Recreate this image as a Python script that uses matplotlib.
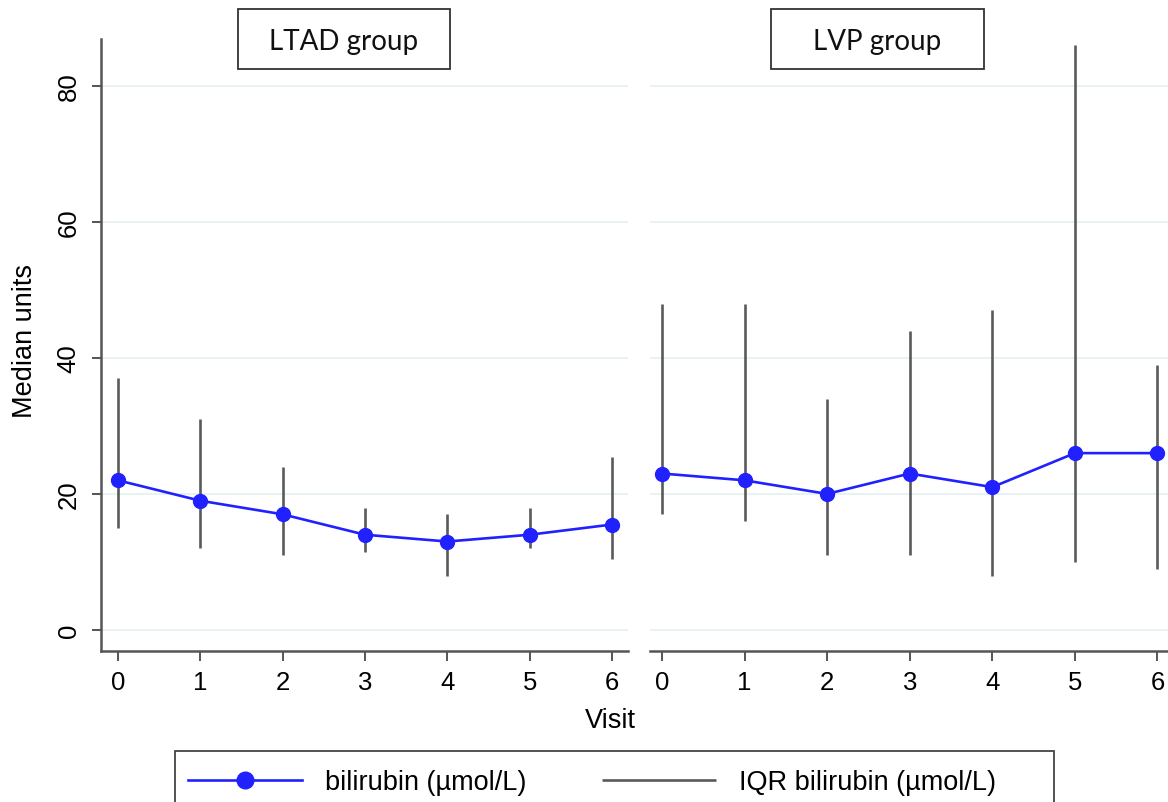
import matplotlib
matplotlib.use("Agg")
import matplotlib.pyplot as plt
from matplotlib.patches import Rectangle
import numpy as np

plt.rcParams['font.family'] = ['Liberation Sans', 'DejaVu Sans']

# visits and bilirubin medians / IQR
visits = [0, 1, 2, 3, 4, 5, 6]
ltad_median = [22, 19, 17, 14, 13, 14, 15.5]
ltad_q1 = [15, 12, 11, 11.5, 8, 12, 10.5]
ltad_q3 = [37, 31, 24, 18, 17, 18, 25.5]
lvp_median = [23, 22, 20, 23, 21, 26, 26]
lvp_q1 = [17, 16, 11, 11, 8, 10, 9]
lvp_q3 = [48, 48, 34, 44, 47, 86, 39]
yticks = [0, 20, 40, 60, 80]
groups = ["LTAD group", "LVP group"]

W, H = 1168, 803
fig = plt.figure(figsize=(W / 100, H / 100), dpi=100)

def fx(px):
    return px / W

def fy(py):
    return 1 - py / H

blue = '#2121ff'
gray = '#5a5a5a'
grid_c = '#e6f0f3'
axis_c = '#555555'

ax1 = fig.add_axes([fx(101), fy(652), fx(628 - 101), (652 - 40) / H])
ax2 = fig.add_axes([fx(650), fy(652), fx(1174 - 650), (652 - 40) / H])

panels = [
    (ax1, ltad_median, ltad_q1, ltad_q3, (-0.206, 6.194)),
    (ax2, lvp_median, lvp_q1, lvp_q3, (-0.145, 6.2)),
]

for ax, med, q1, q3, xl in panels:
    for y in yticks:
        ax.axhline(y, color=grid_c, lw=1.3, zorder=0)
    iqr = ax.vlines(visits, q1, q3, color=gray, lw=1.9, zorder=2)
    line, = ax.plot(visits, med, color=blue, lw=1.9, marker='o', ms=10,
                    mfc=blue, mec=blue, zorder=3)
    ax.set_xlim(*xl)
    ax.set_ylim(-3.1, 86.9)
    ax.set_xticks(visits)
    ax.set_yticks(yticks)
    for s in ['top', 'right']:
        ax.spines[s].set_visible(False)
    ax.spines['bottom'].set_color(axis_c)
    ax.spines['bottom'].set_linewidth(1.8)
    ax.spines['left'].set_color(axis_c)
    ax.spines['left'].set_linewidth(1.8)
    ax.tick_params(axis='x', length=7, width=1.4, color=axis_c, pad=7,
                   labelsize=18.5)
    ax.tick_params(axis='y', length=6.5, width=1.4, color=axis_c, pad=8,
                   labelsize=18.5)

for lbl in ax1.get_yticklabels():
    lbl.set_rotation(90)
    lbl.set_va('center')

ax2.spines['left'].set_visible(False)
ax2.tick_params(axis='y', left=False, labelleft=False)

# group title boxes
boxes = [(238, 450), (771, 984)]
for (x0, x1), name in zip(boxes, groups):
    fig.add_artist(Rectangle((fx(x0), fy(70)), fx(x1 - x0), 60 / H,
                             transform=fig.transFigure, fill=False,
                             edgecolor='#333333', lw=1.3))
    fig.text(fx((x0 + x1) / 2), fy(42), name, ha='center', va='center',
             fontsize=20, family=['Lato', 'DejaVu Sans'], color='#111111')

fig.text(fx(25), fy(341), "Median units", rotation=90, ha='center',
         va='center', fontsize=19.5)
fig.text(fx(610), fy(721), "Visit", ha='center', va='center', fontsize=19.5)

# legend with its own frame that runs off the bottom edge
fig.add_artist(Rectangle((fx(175), fy(812)), fx(1054 - 175), 60 / H,
                         transform=fig.transFigure, fill=False,
                         edgecolor='#444444', lw=1.3))
fig.legend([line, iqr], ["bilirubin (µmol/L)", "IQR bilirubin (µmol/L)"],
           loc='center left', bbox_to_anchor=(fx(188), fy(783)), ncol=2,
           frameon=False, fontsize=19.5, handlelength=4.2,
           handletextpad=0.85, columnspacing=2.8, borderaxespad=0,
           borderpad=0, markerscale=1.2)

fig.savefig("out.png", dpi=100)
